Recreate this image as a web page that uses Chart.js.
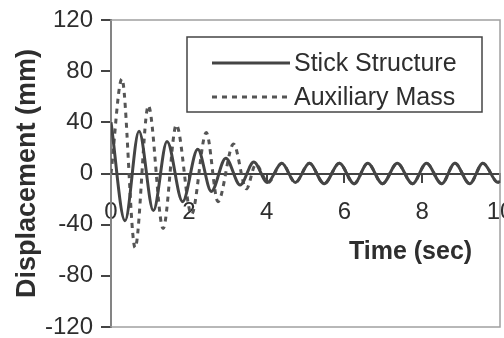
<!DOCTYPE html>
<html>
<head>
<meta charset="utf-8">
<script src="https://cdn.jsdelivr.net/npm/chart.js@4/dist/chart.umd.min.js"></script>
<style>
  html, body { margin: 0; padding: 0; background: #fff; }
  #wrap { width: 504px; height: 338px; }
</style>
</head>
<body>
<div id="wrap"><canvas id="grafico"></canvas></div>
<script>
// valores (tempo em s, deslocamento em mm)
const stickTime = [0, 0.36, 0.72, 1.09, 1.44, 1.84, 2.23, 2.58, 2.95, 3.32, 3.67, 4.02, 4.39, 4.74, 5.10, 5.48, 5.87, 6.25, 6.60, 6.98, 7.36, 7.75, 8.11, 8.50, 8.84, 9.22, 9.56, 9.95, 10];
const stickDisp = [40, -37, 33, -29, 25, -22, 19, -14, 12, -9, 9, -7, 8, -7, 8, -8, 8, -8, 8, -8, 8, -8, 8, -8, 8, -8, 8, -7, -6];

const auxTime = [0, 0.28, 0.62, 0.96, 1.34, 1.68, 2.07, 2.45, 2.75, 3.15, 3.48, 3.72, 4.04, 4.39, 4.74, 5.10, 5.48, 5.87, 6.25, 6.60, 6.98, 7.36, 7.75, 8.11, 8.50, 8.84, 9.22, 9.56, 9.95, 10];
const auxDisp = [0, 74, -58, 53, -43, 38, -32, 32, -22, 23, -12, 7, -7, 8, -7, 8, -8, 8, -8, 8, -8, 8, -8, 8, -8, 8, -8, 8, -7, -6];

const xTicks = [0, 2, 4, 6, 8, 10];
const yTicks = [-120, -80, -40, 0, 40, 80, 120];

const FONTE = "'Liberation Sans', Arial, Helvetica, sans-serif";
const COR_LINHA = "#444";
const COR_TEXTO = "#2e2e2e";

function pontos(xs, ys) {
  return xs.map((x, i) => ({ x: x, y: ys[i] }));
}

// moldura cinza em volta da área do gráfico
const moldura = {
  id: "moldura",
  beforeDatasetsDraw(chart) {
    const a = chart.chartArea;
    const c = chart.ctx;
    c.save();
    c.strokeStyle = "#a0a0a0";
    c.lineWidth = 1.5;
    c.strokeRect(a.left, a.top, a.right - a.left, a.bottom - a.top);
    c.restore();
  }
};

// legenda com caixa e título do eixo x
const extras = {
  id: "extras",
  afterDraw(chart) {
    const c = chart.ctx;
    const sx = chart.scales.x;
    const sy = chart.scales.y;
    c.save();

    // caixa da legenda
    c.strokeStyle = "#444";
    c.lineWidth = 1.5;
    c.fillStyle = "#fff";
    c.fillRect(187, 37, 295, 75);
    c.strokeRect(187, 37, 295, 75);

    const linhas = [63, 97];
    chart.data.datasets.forEach((ds, i) => {
      const y = linhas[i];
      c.strokeStyle = ds.borderColor;
      c.lineWidth = ds.borderWidth;
      c.setLineDash(ds.borderDash || []);
      c.beginPath();
      c.moveTo(212, y);
      c.lineTo(290, y);
      c.stroke();
      c.setLineDash([]);
      c.fillStyle = COR_TEXTO;
      c.font = "25px " + FONTE;
      c.textAlign = "left";
      c.textBaseline = "middle";
      c.fillText(ds.label, 294, y + 1);
    });

    // título do eixo x
    c.fillStyle = COR_TEXTO;
    c.font = "bold 25px " + FONTE;
    c.textAlign = "center";
    c.textBaseline = "middle";
    c.fillText("Time (sec)", sx.getPixelForValue(7.7), sy.getPixelForValue(0) + 79);
    c.restore();
  }
};

const grafico = new Chart(document.getElementById("grafico"), {
  type: "line",
  data: {
    datasets: [
      {
        label: "Stick Structure",
        data: pontos(stickTime, stickDisp),
        borderColor: COR_LINHA,
        borderWidth: 3,
        pointRadius: 0,
        cubicInterpolationMode: "monotone",
        fill: false
      },
      {
        label: "Auxiliary Mass",
        data: pontos(auxTime, auxDisp),
        borderColor: "#555",
        borderWidth: 3,
        borderDash: [5, 5],
        pointRadius: 0,
        cubicInterpolationMode: "monotone",
        fill: false
      }
    ]
  },
  options: {
    responsive: true,
    maintainAspectRatio: false,
    animation: false,
    layout: { padding: { top: 20, right: 4, bottom: 11, left: 0 } },
    plugins: {
      legend: { display: false },
      tooltip: { enabled: false }
    },
    scales: {
      x: {
        type: "linear",
        position: { y: 0 },
        min: 0,
        max: 10,
        afterFit: (s) => { s.height = 0; s.paddingLeft = 0; s.paddingRight = 0; },
        afterBuildTicks: (s) => { s.ticks = xTicks.map(v => ({ value: v })); },
        ticks: {
          color: COR_TEXTO,
          font: { family: FONTE, size: 24 },
          padding: 16
        },
        grid: { drawOnChartArea: false, drawTicks: true, tickLength: 8, color: COR_LINHA, lineWidth: 2 },
        border: { display: true, color: COR_LINHA, width: 2 }
      },
      y: {
        min: -120,
        max: 120,
        afterFit: (s) => { s.width = 111; s.paddingTop = 0; s.paddingBottom = 0; },
        afterBuildTicks: (s) => { s.ticks = yTicks.map(v => ({ value: v })); },
        ticks: {
          color: COR_TEXTO,
          font: { family: FONTE, size: 24 },
          padding: 8
        },
        grid: { drawOnChartArea: false, drawTicks: true, tickLength: 10, color: COR_LINHA, lineWidth: 2 },
        border: { display: true, color: "#333", width: 2 },
        title: {
          display: true,
          text: "Displacement (mm)",
          color: COR_TEXTO,
          font: { family: FONTE, size: 27, weight: "bold" },
          padding: { top: 11, bottom: 0 }
        }
      }
    }
  },
  plugins: [moldura, extras]
});
</script>
</body>
</html>
